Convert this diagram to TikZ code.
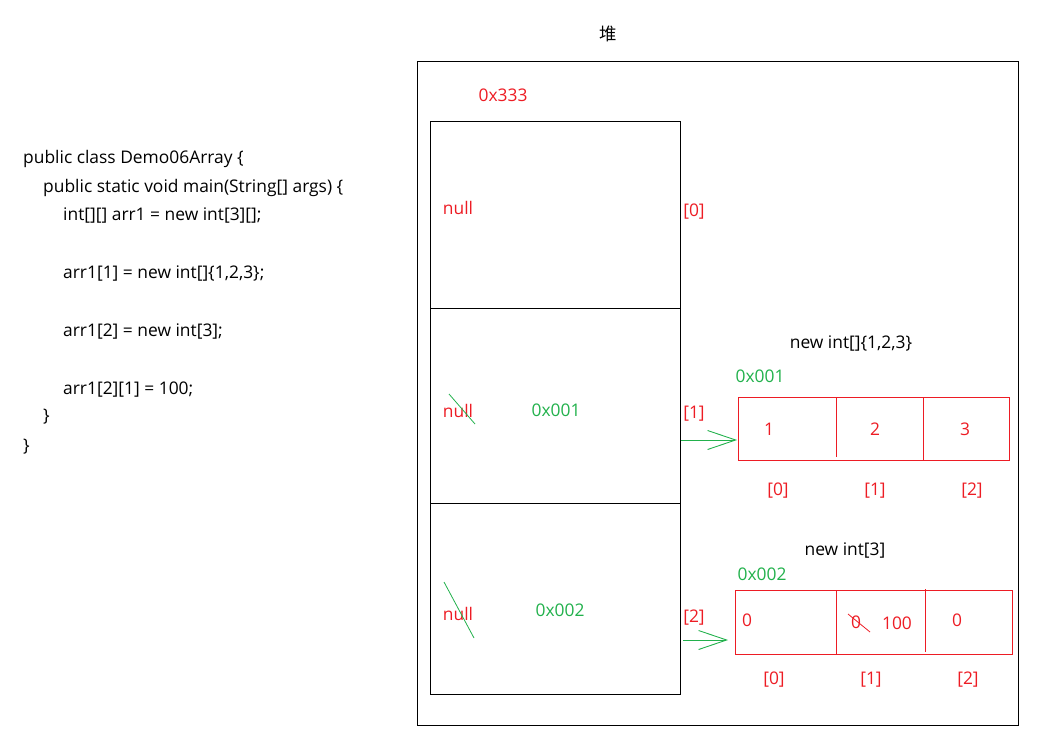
\documentclass[tikz,border=0pt]{standalone}
\usepackage{fontspec}
\setmainfont{Open Sans}
\newfontfamily\cjk{Noto Sans CJK SC}
\usetikzlibrary{arrows.meta}
\definecolor{pred}{RGB}{237,28,36}
\definecolor{pgreen}{RGB}{34,177,76}
\begin{document}
\begin{tikzpicture}[x=1pt,y=-1pt,
  txt/.style={inner sep=0pt,yshift=-1.5pt,font=\fontsize{17.4}{20}\selectfont},
  code/.style={txt,anchor=west,text=black},
  rtxt/.style={txt,text=pred},
  gtxt/.style={txt,text=pgreen},
  cellbox/.style={draw=black,line width=1pt,inner sep=0pt},
  arrbox/.style={draw=pred,line width=1pt,inner sep=0pt},
  ptr/.style={draw=pgreen,line width=1pt,-{Straight Barb[length=28pt,width=19pt,line width=0.9pt]}},
  strike/.style={draw=pgreen,line width=0.8pt}]
\useasboundingbox (0,0) rectangle (1048,736);
% code
\node[code] (c1) at (23,157) {public class Demo06Array \{};
\node[code] (c2) at (43,186) {public static void main(String[] args) \{};
\node[code] (c3) at (63,214) {int[][] arr1 = new int[3][];};
\node[code] (c4) at (63,272) {arr1[1] = new int[]\{1,2,3\};};
\node[code] (c5) at (63,330) {arr1[2] = new int[3];};
\node[code] (c6) at (63,388) {arr1[2][1] = 100;};
\node[code] (c7) at (43,415) {\}};
\node[code] (c8) at (23,445) {\}};
% heap
\node[txt] (heaplbl) at (608,32) {\cjk 堆};
\node[cellbox,minimum width=601pt,minimum height=664pt] (heap) at (717.5,393) {};
\node[rtxt] (addr333) at (503,94) {0x333};
% outer array cells
\node[cellbox,minimum width=250pt,minimum height=187pt] (cell0) at (555,214.5) {};
\node[cellbox,minimum width=250pt,minimum height=195pt] (cell1) at (555,405.5) {};
\node[cellbox,minimum width=250pt,minimum height=191pt] (cell2) at (555,598.5) {};
\node[rtxt] (n0) at (458,206) {null};
\node[rtxt] (n1) at (458,409) {null};
\node[rtxt] (n2) at (458,612) {null};
\node[gtxt] (p1) at (556,409) {0x001};
\node[gtxt] (p2) at (560,609) {0x002};
\node[rtxt] (i0) at (694,210) {[0]};
\node[rtxt] (i1) at (694,412) {[1]};
\node[rtxt] (i2) at (694,616) {[2]};
\coordinate (s1a) at (449,394); \coordinate (s1b) at (475,424);
\coordinate (s2a) at (444,582); \coordinate (s2b) at (474,638);
\draw[strike] (s1a) -- (s1b);
\draw[strike] (s2a) -- (s2b);
% array 1
\node[txt,text=black] (t1) at (851,342) {new int[]\{1,2,3\}};
\node[gtxt] (a1addr) at (760,375) {0x001};
\node[arrbox,minimum width=271pt,minimum height=63pt] (arr1) at (873.5,428.5) {};
\coordinate (d1a) at (836,397); \coordinate (d1b) at (836,457);
\coordinate (d2a) at (923,397); \coordinate (d2b) at (923,460);
\draw[draw=pred,line width=1pt] (d1a) -- (d1b);
\draw[draw=pred,line width=1pt] (d2a) -- (d2b);
\node[rtxt] (v10) at (769,428) {1};
\node[rtxt] (v11) at (875,428) {2};
\node[rtxt] (v12) at (965,428) {3};
\node[rtxt] (j10) at (778,489) {[0]};
\node[rtxt] (j11) at (875,489) {[1]};
\node[rtxt] (j12) at (972,489) {[2]};
% array 2
\node[txt,text=black] (t2) at (845,549) {new int[3]};
\node[gtxt] (a2addr) at (762,573) {0x002};
\node[arrbox,minimum width=277pt,minimum height=64pt] (arr2) at (873.5,622) {};
\coordinate (e1a) at (836,590); \coordinate (e1b) at (836,654);
\coordinate (e2a) at (925,589); \coordinate (e2b) at (925,652);
\draw[draw=pred,line width=1pt] (e1a) -- (e1b);
\draw[draw=pred,line width=1pt] (e2a) -- (e2b);
\node[rtxt] (v20) at (747,619) {0};
\node[rtxt] (v21) at (856,621) {0};
\node[rtxt] (v21n) at (897,622) {100};
\node[rtxt] (v22) at (957,619) {0};
\coordinate (r1a) at (848,614); \coordinate (r1b) at (870,632);
\draw[draw=pred,line width=0.8pt] (r1a) -- (r1b);
\node[rtxt] (j20) at (774,678) {[0]};
\node[rtxt] (j21) at (871,678) {[1]};
\node[rtxt] (j22) at (968,678) {[2]};
% pointers
\coordinate (q1s) at (cell1.east |- 0,440);
\coordinate (q1e) at (737,440);
\coordinate (q2s) at (683,640);
\coordinate (q2e) at (728,640);
\draw[ptr] (q1s) -- (q1e);
\draw[ptr] (q2s) -- (q2e);
\end{tikzpicture}
\end{document}
